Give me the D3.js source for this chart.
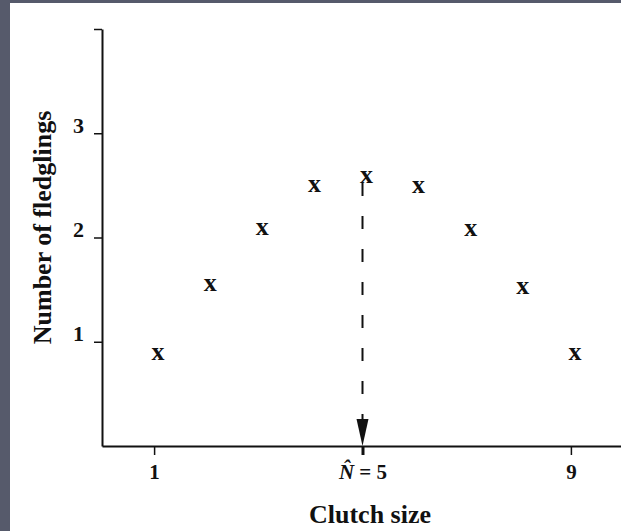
<!DOCTYPE html>
<html>
<head>
<meta charset="utf-8">
<script src="https://cdn.jsdelivr.net/npm/d3@7"></script>
<style>
  html, body { margin: 0; padding: 0; background: #565a6b; }
  #chart { position: absolute; left: 10px; top: 3px; width: 611px; height: 528px; background: #fff; }
  svg { position: absolute; left: -10px; top: -3px; }
  text { font-family: "Liberation Serif", "DejaVu Serif", serif; font-weight: bold; fill: #111; }
</style>
</head>
<body>
<div id="chart"></div>
<script>
// chart values
const clutchSizes = [1, 2, 3, 4, 5, 6, 7, 8, 9];
const fledglings = [0.88, 1.54, 2.08, 2.49, 2.58, 2.48, 2.07, 1.52, 0.88];
const optimumClutch = 5;
const xTickValues = [1, 5, 9];
const xTickLabels = ['1', 'N\u0302 = 5', '9'];
const yTickValues = [1, 2, 3, 4];
const yTickLabels = ['1', '2', '3', ''];

const WIDTH = 621, HEIGHT = 531;

const svg = d3.select('#chart')
    .append('svg')
    .attr('width', WIDTH)
    .attr('height', HEIGHT);

// scales
const x = d3.scaleLinear()
    .domain([0, 10])
    .range([102, 623]);

const y = d3.scaleLinear()
    .domain([0, 4])
    .range([446, 29]);

// y axis
const yAxis = svg.append('g')
    .attr('transform', `translate(${x(0)}, 0)`)
    .call(d3.axisLeft(y)
        .tickValues(yTickValues)
        .tickFormat((d, i) => yTickLabels[i])
        .tickSize(8)
        .tickSizeOuter(0));
yAxis.select('.domain').attr('stroke', '#111').attr('stroke-width', 2);
yAxis.selectAll('.tick line').attr('stroke', '#111').attr('stroke-width', 1.5);
yAxis.selectAll('.tick text')
    .attr('x', -18)
    .attr('dy', '-0.05em')
    .style('font-size', '22px')
    .style('font-family', '"Liberation Serif", serif');

// x axis
const xAxis = svg.append('g')
    .attr('transform', `translate(0, ${y(0)})`)
    .call(d3.axisBottom(x)
        .tickValues(xTickValues)
        .tickFormat((d, i) => xTickLabels[i])
        .tickSize(9)
        .tickSizeOuter(0));
xAxis.select('.domain').attr('stroke', '#111').attr('stroke-width', 2);
xAxis.selectAll('.tick line')
    .attr('stroke', '#111')
    .attr('stroke-width', d => d === optimumClutch ? 3 : 1.5);
xAxis.selectAll('.tick text')
    .attr('y', 18)
    .style('font-size', '21px')
    .style('font-family', '"Liberation Serif", serif')
    .each(function(d, i) {
        if (d !== optimumClutch) return;
        // italic N with hat
        const t = d3.select(this).text('');
        t.append('tspan').style('font-style', 'italic').text('N\u0302');
        t.append('tspan').text(' = 5');
    });

// dashed line to the optimum with arrowhead
svg.append('line')
    .attr('x1', x(optimumClutch))
    .attr('x2', x(optimumClutch))
    .attr('y1', y(d3.max(fledglings)) + 6)
    .attr('y2', y(0) - 26)
    .attr('stroke', '#111')
    .attr('stroke-width', 2)
    .attr('stroke-dasharray', '13,20');

svg.append('path')
    .attr('d', d3.line()([
        [x(optimumClutch) - 6, y(0) - 27],
        [x(optimumClutch) + 6, y(0) - 27],
        [x(optimumClutch), y(0)]
    ]) + 'Z')
    .attr('fill', '#111');

// data markers
svg.selectAll('.pt')
    .data(clutchSizes)
    .enter()
    .append('text')
    .classed('pt', true)
    .attr('x', d => x(d) + 4)
    .attr('y', (d, i) => y(fledglings[i]) + 6)
    .attr('text-anchor', 'middle')
    .style('font-size', '26px')
    .text('x');

// axis titles
svg.append('text')
    .attr('x', 370)
    .attr('y', 523)
    .attr('text-anchor', 'middle')
    .style('font-size', '26px')
    .text('Clutch size');

svg.append('text')
    .attr('transform', `translate(51, ${y(2) - 10}) rotate(-90)`)
    .attr('text-anchor', 'middle')
    .style('font-size', '26px')
    .text('Number of fledglings');
</script>
</body>
</html>
